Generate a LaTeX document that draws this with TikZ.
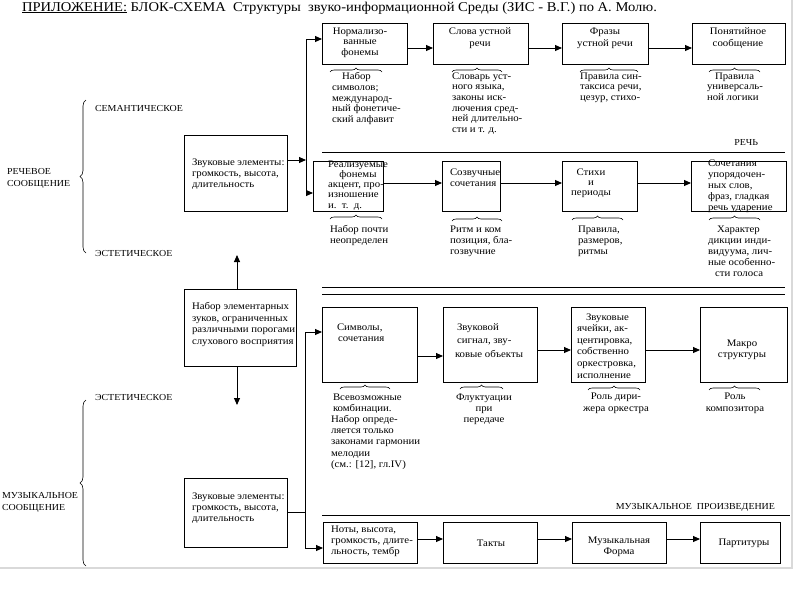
\documentclass[tikz,border=0pt]{standalone}
\usepackage{fontspec}
\usepackage{graphicx}
\setmainfont{Liberation Serif}[FakeStretch=1.08]
\usetikzlibrary{arrows.meta,decorations.pathreplacing,fit}
\begin{document}
\begin{tikzpicture}[x=1pt,y=-1pt,
  every node/.style={inner sep=0pt,outer sep=0pt},
  fnt/.style={font=\fontsize{10}{11}\selectfont},
  capf/.style={font=\fontsize{9.2}{12}\selectfont},
  lsk/.style={font=\fontsize{10}{#1}\selectfont},
  box/.style={draw,line width=0.9pt,inner sep=0pt},
  txt/.style={fnt,align=left,anchor=north west},
  ctxt/.style={fnt,align=center,anchor=north},
  lbl/.style={capf,anchor=west},
  arr/.style={line width=0.9pt,-{Triangle[length=7pt,width=6pt]}},
  ln/.style={line width=0.9pt},
  br/.style={line width=0.6pt,decorate,decoration={brace,amplitude=4pt}},
  bigbr/.style={line width=0.6pt,decorate,decoration={brace,amplitude=6pt}}]
\useasboundingbox (0,0) rectangle (800,600);
% frame
\draw[black!15,line width=1.2pt] (792,0) -- (792,568) -- (0,568);
% title
\node[anchor=base west] (title) at (22,11) {\resizebox{635pt}{!}{\fontsize{13}{15}\selectfont\underline{ПРИЛОЖЕНИЕ:} БЛОК-СХЕМА\ \ Структуры\ \ звуко-информационной Среды (ЗИС - В.Г.) по А. Молю.}};
% left labels
\node[lbl] (sem1) at (95,108) {СЕМАНТИЧЕСКОЕ};
\node[lbl] (est1) at (95,253) {ЭСТЕТИЧЕСКОЕ};
\node[capf,align=left,anchor=north west] (rech) at (7,168) {РЕЧЕВОЕ\\СООБЩЕНИЕ};
\draw[bigbr] (86,253) -- (86,100);
\node[lbl] (est2) at (95,397) {ЭСТЕТИЧЕСКОЕ};
\node[capf,align=left,anchor=north west] (mus) at (2,492) {МУЗЫКАЛЬНОЕ\\СООБЩЕНИЕ};
\draw[bigbr] (86,566) -- (86,400);
% row 1
\node[box,fit={(322,23) (407,64)}] (b1) {};
\node[box,fit={(433,23) (528,64)}] (b2) {};
\node[box,fit={(562,23) (648,64)}] (b3) {};
\node[box,fit={(692,23) (785,64)}] (b4) {};
\node[ctxt,lsk=10.5] (tb1) at (360,27.5) {Нормализо-\\ванные\\фонемы};
\node[ctxt,lsk=12] (tb2) at (480,27.5) {Слова устной\\речи};
\node[ctxt,lsk=12] (tb3) at (605,27.5) {Фразы\\устной речи};
\node[ctxt,lsk=12] (tb4) at (738,27.5) {Понятийное\\сообщение};
\draw[arr] (b1.east |- 0,48) -- (b2.west |- 0,48);
\draw[arr] (b2.east |- 0,48) -- (b3.west |- 0,48);
\draw[arr] (b3.east |- 0,48) -- (b4.west |- 0,48);
\draw[br] (330,72) -- (382,72);
\draw[br] (452,72) -- (502,72);
\draw[br] (580,72) -- (638,72);
\draw[br] (709,72) -- (760,72);
\node[txt,lsk=10.7] (ab1) at (332,72.5) {\hspace*{10pt}Набор\\символов;\\международ-\\ный фонетиче-\\ский алфавит};
\node[txt,lsk=10.7] (ab2) at (452,72.5) {Словарь уст-\\ного языка,\\законы иск-\\лючения сред-\\ней длительно-\\сти и т. д.};
\node[txt,lsk=10.7] (ab3) at (580,72.5) {Правила син-\\таксиса речи,\\цезур, стихо-};
\node[txt,lsk=10.7] (ab4) at (707,72.5) {\hspace*{8pt}Правила\\универсаль-\\ной логики};
% speech label
\node[capf,anchor=east] (rech2) at (758,142) {РЕЧЬ};
\draw[ln] (322,152) -- (785,152);
% row 2
\node[box,fit={(313,161) (383,211)}] (c1) {};
\node[box,fit={(442,161) (500,211)}] (c2) {};
\node[box,fit={(562,161) (637,211)}] (c3) {};
\node[box,fit={(691,161) (786,211)}] (c4) {};
\node[ctxt,lsk=10.5] (tc1a) at (358,160.5) {Реализуемые\\фонемы};
\node[txt,lsk=10.5] (tc1b) at (328,182.5) {акцент, про-\\изношение\\и.\ \ т.\ \ д.};
\node[txt] (tc2) at (450,168.5) {Созвучные\\сочетания};
\node[ctxt,lsk=10] (tc3) at (591,168.5) {Стихи\\и\\периоды};
\node[txt] (tc4) at (708,159.5) {Сочетания\\упорядочен-\\ных слов,\\фраз, гладкая\\речь ударение};
\draw[arr] (c1.east |- 0,183) -- (c2.west |- 0,183);
\draw[arr] (c2.east |- 0,183) -- (c3.west |- 0,183);
\draw[arr] (c3.east |- 0,183) -- (c4.west |- 0,183);
\draw[br] (330,219) -- (382,219);
\draw[br] (452,221) -- (502,221);
\draw[br] (572,220) -- (623,220);
\draw[br] (709,220) -- (760,220);
\node[txt] (ac1) at (330,225.5) {Набор почти\\неопределен};
\node[txt] (ac2) at (450,225.5) {Ритм и ком\\позиция, бла-\\гозвучние};
\node[txt] (ac3) at (578,225.5) {Правила,\\размеров,\\ритмы};
\node[txt] (ac4) at (708,225.5) {\hspace*{9pt}Характер\\дикции инди-\\видуума, лич-\\ные особенно-\\\hspace*{7pt}сти голоса};
% left boxes and connectors
\node[box,fit={(184,135) (287,211)}] (s1) {};
\node[txt] (ts1) at (192,158.5) {Звуковые элементы:\\громкость, высота,\\длительность};
\node[box,fit={(184,289) (296,366)}] (n1) {};
\node[txt,lsk=11.5] (tn1) at (192,302.5) {Набор элементарных\\зуков, ограниченных\\различными порогами\\слухового восприятия};
\node[box,fit={(184,478) (287,547)}] (s2) {};
\node[txt] (ts2) at (192,492.5) {Звуковые элементы:\\громкость, высота,\\длительность};
\coordinate (vtop) at (306,39);
\coordinate (vmid) at (306,160);
\coordinate (vbot) at (306,193);
\draw[ln] (vtop) -- (vbot);
\draw[arr] (s1.east |- vmid) -- (vmid);
\draw[arr] (vtop) -- (b1.west |- vtop);
\draw[arr] (vbot) -- (c1.west |- vbot);
\coordinate (nup) at (237,255);
\coordinate (ndn) at (237,405);
\draw[arr] (nup |- n1.north) -- (nup);
\draw[arr] (ndn |- n1.south) -- (ndn);
% separators
\draw[ln] (322,287) -- (785,287);
\draw[ln] (322,294) -- (785,294);
% row 3
\node[box,fit={(322,307) (417,382)}] (d1) {};
\node[box,fit={(443,307) (537,382)}] (d2) {};
\node[box,fit={(571,307) (645,382)}] (d3) {};
\node[box,fit={(700,307) (787,382)}] (d4) {};
\coordinate (wtop) at (305,332);
\coordinate (wmid) at (305,512);
\coordinate (wbot) at (305,548);
\draw[ln] (wtop) -- (wbot);
\draw[ln] (s2.east |- wmid) -- (wmid);
\draw[arr] (wtop) -- (d1.west |- wtop);
\node[txt,lsk=11.5] (td1) at (337,323.5) {Символы,\\\hspace*{1pt}сочетания};
\node[txt,lsk=13.5] (td2) at (455,323.5) {\hspace*{2pt}Звуковой\\\hspace*{2pt}сигнал, зву-\\ковые объекты};
\node[txt,lsk=11.6] (td3) at (577,313.5) {\hspace*{9pt}Звуковые\\ячейки, ак-\\центировка,\\собственно\\оркестровка,\\исполнение};
\node[ctxt] (td4) at (742,339.5) {Макро\\структуры};
\draw[arr] (d1.east |- 0,356) -- (d2.west |- 0,356);
\draw[arr] (d2.east |- 0,350) -- (d3.west |- 0,350);
\draw[arr] (d3.east |- 0,350) -- (d4.west |- 0,350);
\draw[br] (340,389) -- (390,389);
\draw[br] (460,389) -- (503,389);
\draw[br] (588,390) -- (640,390);
\draw[br] (709,390) -- (760,390);
\node[txt,lsk=11.2] (ad1) at (331,393.5) {\hspace*{2pt}Всевозможные\\\hspace*{2pt}комбинации.\\Набор опреде-\\ляется только\\законами гармонии\\мелодии\\(см.: [12], гл.IV)};
\node[ctxt] (ad2) at (484,393.5) {Флуктуации\\при\\передаче};
\node[ctxt,lsk=12] (ad3) at (616,392.5) {Роль дири-\\жера оркестра};
\node[ctxt,lsk=12] (ad4) at (735,392.5) {Роль\\композитора};
% bottom row
\node[capf,anchor=east] (mp) at (775,507) {МУЗЫКАЛЬНОЕ\ \ ПРОИЗВЕДЕНИЕ};
\draw[ln] (322,515) -- (790,515);
\node[box,fit={(323,522) (417,563)}] (e1) {};
\node[box,fit={(443,522) (537,563)}] (e2) {};
\node[box,fit={(572,522) (666,563)}] (e3) {};
\node[box,fit={(700,522) (780,563)}] (e4) {};
\draw[arr] (wbot) -- (e1.west |- wbot);
\node[txt] (te1) at (331,525.5) {Ноты, высота,\\громкость, длите-\\льность, тембр};
\node[fnt] (te2) at (491,543) {Такты};
\node[ctxt] (te3) at (619,536.5) {Музыкальная\\Форма};
\node[fnt] (te4) at (744,543) {Партитуры};
\draw[arr] (e1.east |- 0,539) -- (e2.west |- 0,539);
\draw[arr] (e2.east |- 0,539) -- (e3.west |- 0,539);
\draw[arr] (e3.east |- 0,539) -- (e4.west |- 0,539);
\end{tikzpicture}
\end{document}
